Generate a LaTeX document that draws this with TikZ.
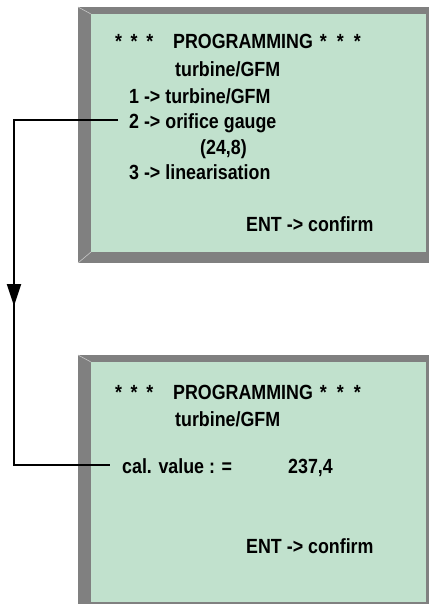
\documentclass[tikz,border=0pt]{standalone}
\usepackage{fontspec}
\setmainfont{Liberation Sans}[FakeStretch=0.87]
\usetikzlibrary{arrows.meta}
\definecolor{lcdgreen}{RGB}{193,225,205}
\definecolor{framegray}{RGB}{128,128,128}
\definecolor{bevel}{RGB}{200,200,200}
\newcommand{\stars}{*\hspace{8.6pt}*\hspace{8.6pt}*}
\newcommand{\starsb}{*\hspace{10pt}*\hspace{10pt}*}
\begin{document}
\begin{tikzpicture}[x=1pt,y=-1pt,
  txt/.style={anchor=base west, inner sep=0pt, font=\fontsize{20.5}{24}\selectfont\bfseries},
  conn/.style={line width=2pt, black},
  frame/.style={fill=framegray},
  screen/.style={fill=lcdgreen}]
\useasboundingbox (0,0) rectangle (429,604);
% top display
\fill[frame] (78,7) rectangle (429,263);
\fill[screen] (91,14) rectangle (426,252);
\draw[bevel, line width=0.6pt] (78,7) -- (91,14) (78,263) -- (91,252);
\node[txt] (t1) at (115,49) {\stars\hspace{20pt}PROGRAMMING\hspace{7pt}\starsb};
\node[txt] (t2) at (175,77) {turbine/GFM};
\node[txt] (t3) at (129,104) {1 -> turbine/GFM};
\node[txt] (t4) at (129,128.5) {2 -> orifice gauge};
\node[txt] (t5) at (200,155) {(24,8)};
\node[txt] (t6) at (129,179) {3 -> linearisation};
\node[txt] (t7) at (246,231) {ENT -> confirm};
% bottom display
\fill[frame] (78,355) rectangle (429,604);
\fill[screen] (91,362) rectangle (426,602);
\draw[bevel, line width=0.6pt] (78,355) -- (91,362);
\node[txt] (b1) at (115,399) {\stars\hspace{20pt}PROGRAMMING\hspace{7pt}\starsb};
\node[txt] (b2) at (175,426) {turbine/GFM};
\node[txt] (b3) at (122,473) {cal. value : =};
\node[txt] (b4) at (288,473) {237,4};
\node[txt] (b5) at (246,553) {ENT -> confirm};
% connector
\coordinate (c1) at (14,120);
\coordinate (c2) at (14,465);
\coordinate (cm) at (14,306);
\coordinate (e1) at (118,120);
\coordinate (e2) at (110,465);
\draw[conn] (e1) -- (c1) -- (c2) -- (e2);
\draw[conn, -{Triangle[length=22pt,width=14pt]}] (c1) -- (cm);
\end{tikzpicture}
\end{document}
